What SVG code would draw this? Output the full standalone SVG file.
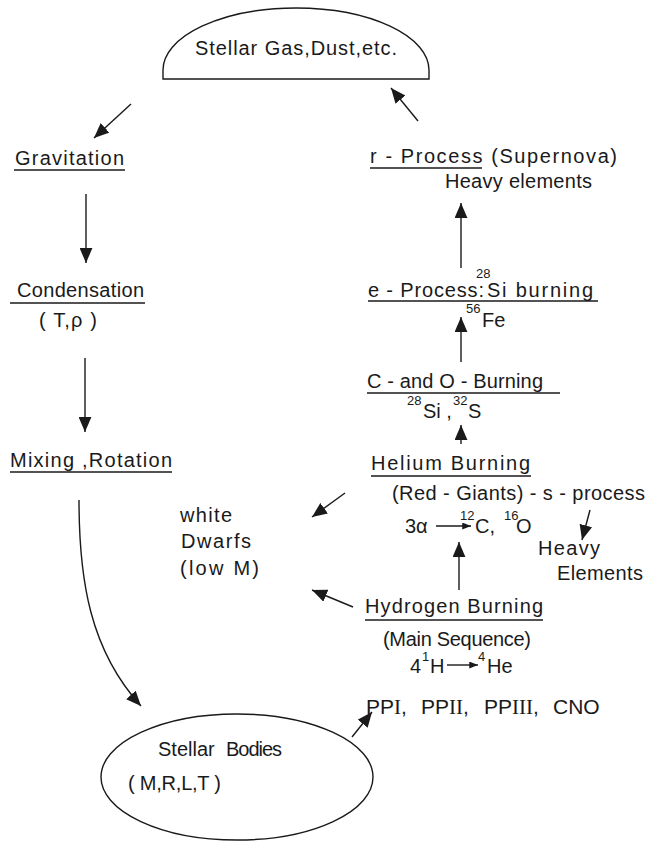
<svg xmlns="http://www.w3.org/2000/svg" width="648" height="844" viewBox="0 0 648 844">
<style>
.t{font-family:"Liberation Sans",Arial,sans-serif;font-size:20px;fill:#1a1a1a}
.s{font-size:13px}
.r{font-family:"Liberation Serif","Times New Roman",serif}
.ln{stroke:#1a1a1a;stroke-width:1.4;fill:none}
.u{stroke:#1a1a1a;stroke-width:1.4}
</style>
<defs>
<marker id="ah" viewBox="0 0 14 12" refX="14" refY="6" markerWidth="15" markerHeight="13" markerUnits="userSpaceOnUse" orient="auto">
<path d="M0,0 L14,6 L0,12 z" fill="#1a1a1a"/>
</marker>
<marker id="ahs" viewBox="0 0 10 8" refX="10" refY="4" markerWidth="9" markerHeight="7" markerUnits="userSpaceOnUse" orient="auto">
<path d="M0,0 L10,4 L0,8 z" fill="#1a1a1a"/>
</marker>
</defs>
<rect width="648" height="844" fill="#ffffff"/>

<g id="stellar-gas">
<path class="ln" d="M163,79 L163,70 A133,62 0 0 1 429,70 L429,79 Z"/>
<text class="t" x="195" y="55" textLength="202">Stellar Gas,Dust,etc.</text>
</g>

<g id="gravitation">
<text class="t" x="15" y="165" textLength="109">Gravitation</text>
<line class="u" x1="14" y1="170" x2="125" y2="170"/>
</g>

<g id="condensation">
<text class="t" x="17" y="297" textLength="127">Condensation</text>
<line class="u" x1="10" y1="303" x2="145" y2="303"/>
<text class="t" x="39" y="327" textLength="58">( T,ρ )</text>
</g>

<g id="mixing">
<text class="t" x="10" y="467" textLength="162">Mixing ,Rotation</text>
<line class="u" x1="10" y1="472" x2="172" y2="472"/>
</g>

<g id="stellar-bodies">
<ellipse class="ln" cx="237" cy="777" rx="136" ry="63"/>
<text class="t" x="158" y="756">Stellar</text>
<text class="t" x="226" y="756" textLength="56">Bodies</text>
<text class="t" x="128" y="790" textLength="93">(  M,R,L,T )</text>
</g>

<g id="pp-chains">
<text class="t" style="font-size:21px"><tspan x="366" y="714">PP</tspan><tspan class="r">I</tspan><tspan>,</tspan><tspan x="421">PP</tspan><tspan class="r">II</tspan><tspan>,</tspan><tspan x="484">PP</tspan><tspan class="r">III</tspan><tspan>,</tspan><tspan x="553">CNO</tspan></text>
</g>

<g id="hydrogen-burning">
<text class="t" x="365" y="613" textLength="178">Hydrogen Burning</text>
<line class="u" x1="365" y1="620" x2="543" y2="620"/>
<text class="t" x="383" y="646" textLength="148">(Main Sequence)</text>
<text class="t" x="410" y="673">4</text>
<text class="t s" x="422" y="661">1</text>
<text class="t" x="430" y="673">H</text>
<text class="t s" x="478" y="661">4</text>
<text class="t" x="487" y="673">He</text>
</g>

<g id="white-dwarfs">
<text class="t" x="180" y="522" textLength="52">white</text>
<text class="t" x="181" y="548" textLength="70">Dwarfs</text>
<text class="t" x="180" y="575" textLength="79">(low M)</text>
</g>

<g id="helium-burning">
<text class="t" x="371" y="470" textLength="159">Helium  Burning</text>
<line class="u" x1="371" y1="476" x2="531" y2="476"/>
<text class="t" x="392" y="500" textLength="253">(Red - Giants) - s - process</text>
<text class="t" x="405" y="533">3α</text>
<text class="t s" x="460" y="520">12</text>
<text class="t" x="475" y="533">C,</text>
<text class="t s" x="504" y="520">16</text>
<text class="t" x="516" y="533">O</text>
</g>

<g id="heavy-elements">
<text class="t" x="538" y="555" textLength="62">Heavy</text>
<text class="t" x="557" y="580" textLength="86">Elements</text>
</g>

<g id="c-o-burning">
<text class="t" x="367" y="388" textLength="176">C - and O - Burning</text>
<line class="u" x1="367" y1="393" x2="560" y2="393"/>
<text class="t s" x="407" y="405">28</text>
<text class="t" x="423" y="418">Si ,</text>
<text class="t s" x="453" y="405">32</text>
<text class="t" x="468" y="418">S</text>
</g>

<g id="e-process">
<text class="t" x="368" y="297" textLength="116">e - Process:</text>
<text class="t s" x="476" y="278">28</text>
<text class="t" x="487" y="297" textLength="106">Si  burning</text>
<line class="u" x1="368" y1="301" x2="598" y2="301"/>
<text class="t s" x="466" y="313">56</text>
<text class="t" x="482" y="327">Fe</text>
</g>

<g id="r-process">
<text class="t" x="370" y="163" textLength="247">r - Process  (Supernova)</text>
<line class="u" x1="370" y1="168" x2="482" y2="168"/>
<text class="t" x="445" y="188" textLength="147">Heavy elements</text>
</g>

<g id="connectors">
<line class="ln" x1="131" y1="104" x2="94" y2="138" marker-end="url(#ah)"/>
<line class="ln" x1="86" y1="194" x2="86" y2="263" marker-end="url(#ah)"/>
<line class="ln" x1="85" y1="358" x2="85" y2="432" marker-end="url(#ah)"/>
<path class="ln" d="M79,500 C79,580 90,650 141,706" marker-end="url(#ah)"/>
<line class="ln" x1="352" y1="737" x2="372" y2="712" marker-end="url(#ah)"/>
<line class="ln" x1="353" y1="607" x2="312" y2="590" marker-end="url(#ah)"/>
<line class="ln" x1="459" y1="590" x2="459" y2="542" marker-end="url(#ah)"/>
<line class="ln" x1="345" y1="493" x2="312" y2="517" marker-end="url(#ah)"/>
<line class="ln" x1="590" y1="510" x2="582" y2="540" marker-end="url(#ah)"/>
<line class="ln" x1="461" y1="444" x2="461" y2="425" marker-end="url(#ah)"/>
<line class="ln" x1="461" y1="362" x2="461" y2="317" marker-end="url(#ah)"/>
<line class="ln" x1="461" y1="268" x2="461" y2="203" marker-end="url(#ah)"/>
<line class="ln" x1="418" y1="121" x2="391" y2="88" marker-end="url(#ah)"/>
<line class="ln" x1="436" y1="526" x2="471" y2="526" marker-end="url(#ahs)"/>
<line class="ln" x1="447" y1="665" x2="478" y2="665" marker-end="url(#ahs)"/>
</g>
</svg>
